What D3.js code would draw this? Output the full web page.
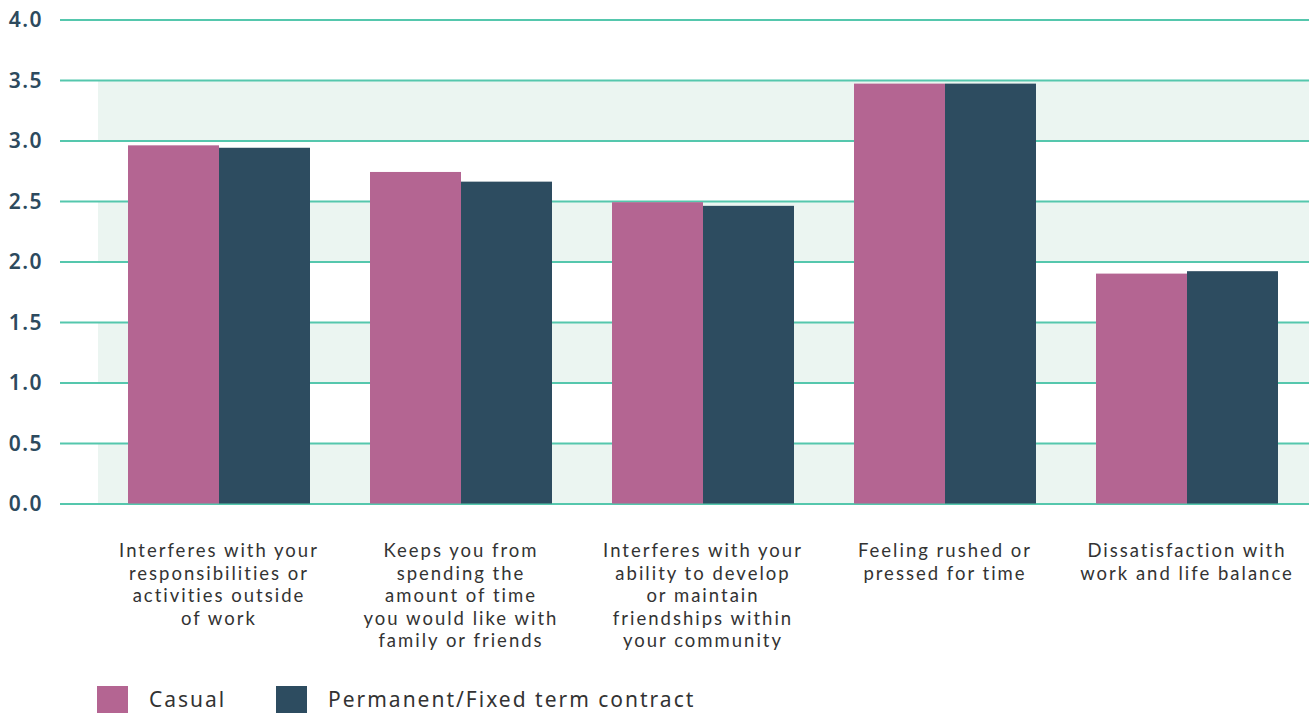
<!DOCTYPE html>
<meta charset="utf-8">
<html>
<head>
<title>Work and life balance</title>
<script src="https://d3js.org/d3.v7.min.js"></script>
<style type="text/css">
body { margin: 0; background: #ffffff; }
.tick-label {
  font-family: 'Noto Sans', sans-serif;
  font-weight: 600;
  font-size: 21px;
  fill: #2d4a5e;
  letter-spacing: 1.5px;
}
.cat-label {
  font-family: 'Lato', sans-serif;
  font-size: 18.5px;
  fill: #333333;
  letter-spacing: 2px;
}
.legend-label {
  font-family: 'Noto Sans', sans-serif;
  font-size: 21px;
  fill: #333333;
  letter-spacing: 2px;
}
</style>
</head>
<body>
<div id="chart"></div>

<script type="text/javascript">

// categories (label lines)
var categories = [
  ["Interferes with your", "responsibilities or", "activities outside", "of work"],
  ["Keeps you from", "spending the", "amount of time", "you would like with", "family or friends"],
  ["Interferes with your", "ability to develop", "or maintain", "friendships within", "your community"],
  ["Feeling rushed or", "pressed for time"],
  ["Dissatisfaction with", "work and life balance"]
];

var seriesNames = ["Casual", "Permanent/Fixed term contract"];
var casual = [2.96, 2.74, 2.49, 3.47, 1.90];
var permanent = [2.94, 2.66, 2.46, 3.47, 1.92];
var yTicks = [0, 0.5, 1, 1.5, 2, 2.5, 3, 3.5, 4];
var colors = ["#b46592", "#2d4c60"];

var W = 1309, H = 713;

var svg = d3.select("#chart")
  .append("svg")
    .attr("width", W)
    .attr("height", H);

var y = d3.scaleLinear()
  .domain([0, 4])
  .range([503.5, 19.5]);

var x0 = d3.scaleBand()
  .domain(d3.range(categories.length))
  .range([98, 1308])
  .paddingInner(0.248)
  .paddingOuter(0.124);

var x1 = d3.scaleBand()
  .domain([0, 1])
  .range([0, x0.bandwidth()]);

// background shading
svg.append("rect")
  .attr("x", 98)
  .attr("y", y(3.5))
  .attr("width", W - 98)
  .attr("height", y(0) - y(3.5))
  .attr("fill", "#ebf5f1");

[[3, 2.5], [2, 1.5], [1, 0.5]].forEach(function(b) {
  svg.append("rect")
    .attr("x", 98)
    .attr("y", y(b[0]))
    .attr("width", W - 98)
    .attr("height", y(b[1]) - y(b[0]))
    .attr("fill", "#ffffff");
});

// grid lines + y labels
var yAxis = svg.append("g")
  .attr("transform", "translate(60,0)")
  .call(d3.axisLeft(y)
    .tickValues(yTicks)
    .tickSize(-(W - 60))
    .tickPadding(17)
    .tickFormat(d3.format(".1f")));
yAxis.select(".domain").remove();
yAxis.selectAll(".tick line")
  .attr("stroke", "#55c7ad")
  .attr("stroke-width", 2);
yAxis.selectAll(".tick text")
  .attr("class", "tick-label")
  .attr("dy", "0.35em");

// bars
var groups = svg.append("g")
  .selectAll("g")
  .data(categories)
  .enter().append("g")
    .attr("transform", function(d, i) { return "translate(" + x0(i) + ",0)"; });

groups.selectAll("rect")
  .data(function(d, i) { return [casual[i], permanent[i]]; })
  .enter().append("rect")
    .attr("x", function(d, j) { return x1(j); })
    .attr("y", function(d) { return y(d); })
    .attr("width", x1.bandwidth())
    .attr("height", function(d) { return y(0) - y(d); })
    .attr("fill", function(d, j) { return colors[j]; });

// category labels, one text per line
groups.selectAll("text.cat-label")
  .data(function(d) { return d; })
  .enter().append("text")
    .attr("class", "cat-label")
    .attr("text-anchor", "middle")
    .attr("x", x0.bandwidth() / 2)
    .attr("y", function(d, k) { return 557 + k * 22.5; })
    .text(function(d) { return d; });

// legend
var legendX = [97, 276];
var legend = svg.append("g")
  .selectAll("g")
  .data(seriesNames)
  .enter().append("g")
    .attr("transform", function(d, i) { return "translate(" + legendX[i] + ",686)"; });

legend.append("rect")
  .attr("width", 31)
  .attr("height", 28)
  .attr("fill", function(d, i) { return colors[i]; });

legend.append("text")
  .attr("class", "legend-label")
  .attr("x", 52)
  .attr("y", 21)
  .text(function(d) { return d; });

</script>
</body>
</html>
